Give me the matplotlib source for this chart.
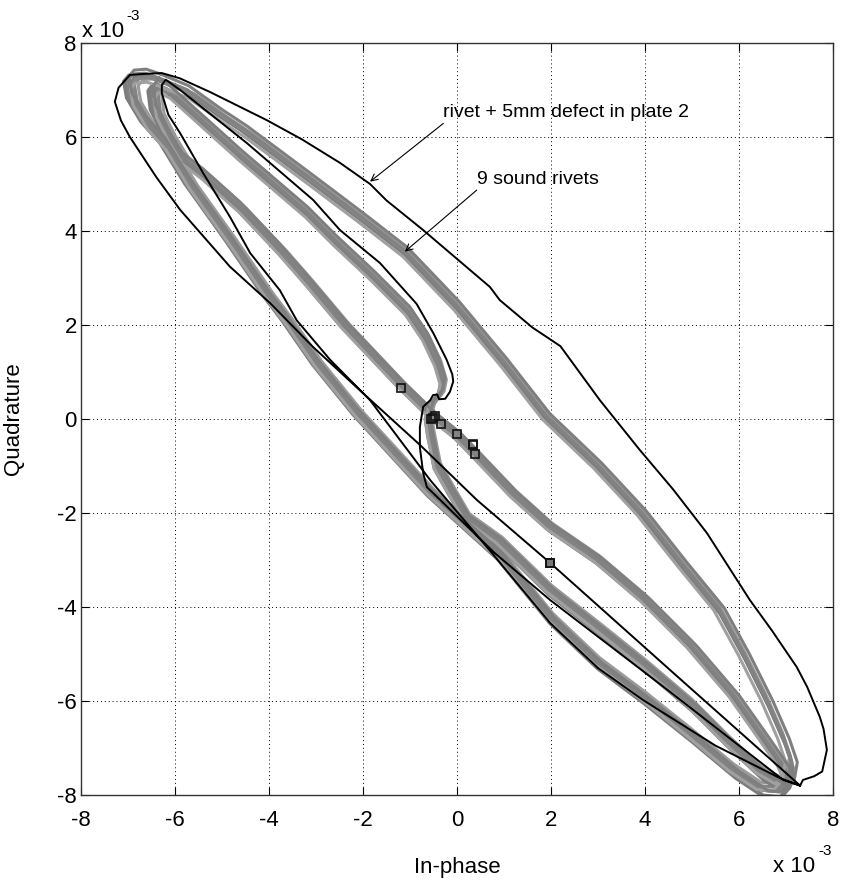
import matplotlib
matplotlib.use("Agg")
import matplotlib.pyplot as plt
import numpy as np

plt.rcParams['font.family'] = ['Liberation Sans', 'DejaVu Sans']

# Impedance-plane trajectories, in units of 1e-3
# Nine sound rivets: mean trajectory (outer loop, then inner loop)
sound_x = [
    # outer loop: upper branch down to the lower-right tip
    -6.30, -5.70, -5.00, -4.47, -4.00, -3.06, -2.00, -1.10, 0.00, 1.00, 1.90,
    3.00, 3.93, 4.80, 5.58, 6.10, 6.60, 6.95, 7.12,
    # lower-left branch back to the upper-left tip
    7.05, 6.85, 6.50, 5.90, 5.00, 4.00, 3.00, 2.00, 0.90, -0.57, -2.13,
    -2.99, -3.62, -4.05, -4.83, -5.68, -6.20, -6.60, -6.90, -6.96, -6.85,
    -6.60, -6.30,
]
sound_y = [
    7.20, 6.95, 6.45, 6.10, 5.75, 5.05, 4.25, 3.55, 2.40, 1.20, 0.05,
    -1.00, -2.00, -3.10, -4.05, -5.00, -6.00, -6.80, -7.30,
    -7.70, -7.93, -7.90, -7.50, -6.75, -5.95, -5.20, -4.25, -2.90, -1.57, 0.13,
    1.19, 2.10, 2.67, 3.81, 5.00, 5.85, 6.30, 6.80, 7.15, 7.28,
    7.30, 7.20,
]
sound_inner_x = [
    # from the centre up to the upper-left tip
    -0.55, -0.35, -0.30, -0.42, -0.68, -1.05, -1.80, -2.60, -3.20, -4.60,
    -5.60, -6.10, -6.35,
    # back down through the centre to the lower-right tip
    -6.45, -6.40, -6.15, -5.85, -5.40, -4.62, -3.77, -3.20, -2.40, -1.19,
    -0.50, 0.00, 0.38, 1.20, 1.98, 3.00, 4.00, 5.00, 5.90, 6.50, 6.95, 7.05,
    # return to the centre
    6.90, 6.50, 5.80, 5.00, 4.00, 3.00, 1.98, 0.90, 0.20, -0.15, -0.43,
    -0.57, -0.62, -0.55,
]
sound_inner_y = [
    0.30, 0.55, 0.80, 1.20, 1.75, 2.30, 3.05, 3.80, 4.40, 5.60,
    6.50, 6.95, 7.08,
    6.95, 6.55, 6.05, 5.55, 5.20, 4.50, 3.60, 2.95, 2.00, 0.72,
    0.05, -0.35, -0.74, -1.60, -2.30, -3.00, -3.85, -4.85, -5.90, -6.75,
    -7.40, -7.62,
    -7.78, -7.55, -6.90, -6.10, -5.25, -4.45, -3.65, -2.60, -2.10, -1.50, -1.00,
    -0.30, 0.05, 0.30,
]

# Spread of the nine individual rivet traces around the mean trajectory
rivet_gain = [1.000, 0.992, 1.008, 0.985, 1.012, 0.996, 1.004, 0.990, 1.010]
rivet_dx = [0.00, 0.04, -0.03, 0.07, -0.05, 0.02, -0.02, -0.06, 0.05]
rivet_dy = [0.00, 0.03, -0.04, 0.05, -0.05, -0.01, 0.03, -0.06, 0.07]
rivet_shade = ['#7e7e7e', '#848484', '#808080', '#9a9a9a', '#7c7c7c',
               '#878787', '#828282', '#a0a0a0', '#7f7f7f']

# Rivet with a 5 mm defect in plate 2
defect_x = [
    7.30, 7.36, 7.60, 7.77, 7.87, 7.80, 7.72, 7.45, 7.23, 6.70, 6.23, 5.32,
    4.60, 3.89, 3.04, 2.20, 1.60, 0.91, 0.70, -0.72, -1.50, -1.85, -2.49,
    -3.30, -4.05, -5.26, -5.90, -6.28, -6.70, -6.96, -7.20, -7.28, -7.15,
    -6.96, -6.40, -5.89, -4.83, -3.98, -3.06, -2.00, -0.79, 0.42, 1.98,
    4.60, 7.30,
    6.94, 4.50, 1.98, 0.80, -0.36, -0.64, -0.72, -0.79, -0.79, -0.72, -0.57,
    -0.51, -0.42, -0.38, -0.25, -0.15, -0.08, -0.10, -0.22, -0.50, -0.86,
    -1.64, -2.49, -3.06, -4.47, -5.89, -6.20, -6.28, -6.28, -6.14, -5.89,
    -5.40, -4.83, -4.40, -3.77, -3.41, -2.70, -1.85, -0.57, 0.70, 1.98,
    3.00, 3.96, 5.50, 6.87, 7.30,
]
defect_y = [
    -7.80, -7.68, -7.60, -7.50, -7.04, -6.60, -6.34, -5.70, -5.28, -4.50, -3.85,
    -2.43, -1.50, -0.66, 0.40, 1.55, 1.95, 2.53, 2.81, 4.02, 4.65, 5.00, 5.45,
    5.95, 6.36, 6.96, 7.25, 7.36, 7.34, 7.32, 7.05, 6.75, 6.35,
    6.00, 5.15, 4.45, 3.24, 2.47, 1.53, 0.55, -0.55, -1.72, -3.06,
    -5.40, -7.80,
    -7.68, -5.78, -3.85, -2.85, -1.72, -1.45, -1.15, -0.60, -0.17, 0.26, 0.40,
    0.51, 0.52, 0.42, 0.43, 0.58, 0.80, 0.95, 1.26, 1.82, 2.45,
    3.32, 4.02, 4.66, 5.87, 7.00, 7.22, 7.10, 6.93, 6.47, 6.08,
    5.23, 4.30, 3.53, 2.74, 2.10, 1.26, 0.40, -1.30, -2.80, -4.34,
    -5.30, -5.98, -6.95, -7.64, -7.80,
]

# Scan start points
start_x = [-1.19, -0.56, -0.47, -0.50, -0.34, 0.01, 0.33, 0.35, 0.38]
start_y = [0.67, 0.00, 0.06, 0.02, -0.11, -0.32, -0.53, -0.55, -0.74]
defect_start = (1.98, -3.06)

ticks = [-8, -6, -4, -2, 0, 2, 4, 6, 8]

fig = plt.figure(figsize=(8.45, 8.88), dpi=100)
ax = fig.add_axes([81 / 845, 93 / 888, 752 / 845, 752 / 888])

sx = np.array(sound_x)
sy = np.array(sound_y)
ix = np.array(sound_inner_x)
iy = np.array(sound_inner_y)
for g, dx, dy, c in zip(rivet_gain, rivet_dx, rivet_dy, rivet_shade):
    ax.plot(g * sx + dx, g * sy + dy, color=c, lw=2.2, zorder=2,
            solid_joinstyle='round')
    ax.plot(g * ix + dx, g * iy + dy, color=c, lw=2.2, zorder=2,
            solid_joinstyle='round')

ax.plot(defect_x, defect_y, color='black', lw=1.4, zorder=3)

ax.plot(start_x, start_y, linestyle='none', marker='s', ms=5.5, mew=1.2,
        mfc='none', mec='#111111', zorder=4)
ax.plot([defect_start[0]], [defect_start[1]], linestyle='none', marker='s',
        ms=5.5, mew=1.4, mfc='#777777', mec='#111111', zorder=4)

# Annotations
ax.annotate('', xy=(-1.85, 5.05), xytext=(-0.29, 6.29),
            arrowprops=dict(arrowstyle='->', color='black', lw=0.8,
                            shrinkA=0, shrinkB=0, mutation_scale=12), zorder=5)
ax.text(-0.30, 6.53, 'rivet + 5mm defect in plate 2', fontsize=14,
        ha='left', va='center', zorder=5)
ax.annotate('', xy=(-1.11, 3.56), xytext=(0.42, 4.87),
            arrowprops=dict(arrowstyle='->', color='black', lw=0.8,
                            shrinkA=0, shrinkB=0, mutation_scale=12), zorder=5)
ax.text(0.42, 5.09, '9 sound rivets', fontsize=14, ha='left', va='center',
        zorder=5)

ax.set_xlim(-8, 8)
ax.set_ylim(-8, 8)
ax.set_xticks(ticks)
ax.set_yticks(ticks)
ax.set_xticklabels([str(t) for t in ticks])
ax.set_yticklabels([str(t) for t in ticks])
ax.grid(True, color='black', linestyle=(0, (1, 3)), lw=0.7)
ax.set_axisbelow(True)
ax.tick_params(direction='in', length=5.5, width=0.8, top=True, right=True,
               labelsize=16)
ax.tick_params(axis='x', pad=11)
ax.tick_params(axis='y', pad=3)
for s in ax.spines.values():
    s.set_color('#333333')
    s.set_linewidth(1.0)

ax.set_xlabel('In-phase', fontsize=16)
ax.set_ylabel('Quadrature', fontsize=16)
ax.xaxis.set_label_coords(0.5, -0.082)
ax.yaxis.set_label_coords(-0.076, 0.5)

# Exponent labels for both axes
fig.text(82 / 845, 1 - 37 / 888, 'x 10', fontsize=16, ha='left', va='baseline')
fig.text(126 / 845, 1 - 20 / 888, '-3', fontsize=11, ha='left', va='baseline')
fig.text(773 / 845, 1 - 872 / 888, 'x 10', fontsize=16, ha='left', va='baseline')
fig.text(818 / 845, 1 - 855 / 888, '-3', fontsize=11, ha='left', va='baseline')

fig.savefig('out.png', dpi=100)
